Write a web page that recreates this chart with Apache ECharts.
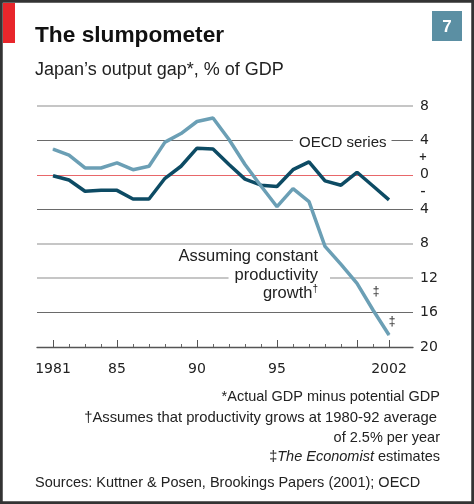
<!DOCTYPE html>
<html><head><meta charset="utf-8">
<script src="https://cdn.jsdelivr.net/npm/echarts@6/dist/echarts.min.js"></script>
<style>html,body{margin:0;padding:0;background:#fff}#c{width:474px;height:504px}</style>
</head><body><div id="c"></div>
<script>
// ---- data ----
const years = [1981,1982,1983,1984,1985,1986,1987,1988,1989,1990,1991,1992,1993,1994,1995,1996,1997,1998,1999,2000,2001,2002];
const oecdSeries = [-0.1,-0.6,-1.9,-1.8,-1.8,-2.8,-2.8,-0.4,1.0,3.1,3.0,1.2,-0.5,-1.2,-1.35,0.6,1.5,-0.7,-1.2,0.3,-1.3,-2.9];
const constProductivity = [3.0,2.3,0.8,0.8,1.4,0.6,1.0,3.8,4.8,6.2,6.6,4.1,1.2,-1.3,-3.7,-1.6,-3.1,-8.3,-10.4,-12.6,-15.7,-18.6];
const yTickValues = [-20,-16,-12,-8,-4,0,4,8];
const xLabelYears = [1981,1985,1990,1995,2002];
const xMajorTickYears = [1981,1985,1990,1995,2000,2002];
const estimateYears = [2001,2002];

// ---- styles ----
const NUM_FONT = 'DejaVu Sans';
const TXT_FONT = 'Liberation Sans';
const DARK_LINE = '#0d4b64';
const LIGHT_LINE = '#6b9fb5';
const lightGrid = new Set([-12,-8,8]);
const darkGrid = new Set([-16,-4,4]);
const lightColors = yTickValues.map(v => lightGrid.has(v) ? '#c6c6c6' : 'rgba(0,0,0,0)');
const darkColors = yTickValues.map(v => darkGrid.has(v) ? '#6a6a6a' : (v === 0 ? '#e8676a' : 'rgba(0,0,0,0)'));
const daggerOffsets = {2001: [3, -8], 2002: [3, -3]};

const chart = echarts.init(document.getElementById('c'), null, {renderer: 'canvas'});

const lightData = years.map((y, i) => {
  if (estimateYears.includes(y)) {
    return {value: [y, constProductivity[i]], label: {show: true, formatter: '‡', position: 'top', distance: 4, offset: daggerOffsets[y], color: '#222', fontSize: 12, fontFamily: TXT_FONT}};
  }
  return [y, constProductivity[i]];
});

const option = {
  animation: false,
  backgroundColor: '#fff',
  grid: {left: 37, right: 61, top: 106, bottom: 157, containLabel: false, outerBoundsMode: 'none'},
  xAxis: [
    {type: 'value', min: 1980, max: 2003.5, position: 'bottom',
     axisLine: {show: true, onZero: false, lineStyle: {color: '#555', width: 1.3}},
     axisTick: {show: true, inside: true, length: 3, customValues: years, lineStyle: {color: '#666', width: 1}},
     axisLabel: {show: false}, splitLine: {show: false}},
    {type: 'value', min: 1980, max: 2003.5, position: 'bottom',
     axisLine: {show: false, onZero: false},
     axisTick: {show: true, inside: true, length: 7, customValues: xMajorTickYears, lineStyle: {color: '#555', width: 1}},
     axisLabel: {show: true, customValues: xLabelYears, margin: 15, color: '#222', fontSize: 14, fontFamily: NUM_FONT,
       formatter: v => (v === 1981 || v === 2002) ? String(v) : String(v).slice(2)},
     splitLine: {show: false}}
  ],
  yAxis: [
    {type: 'value', min: -20, max: 8, interval: 4, position: 'right',
     axisLine: {show: false}, axisTick: {show: false},
     axisLabel: {show: true, margin: 7, color: '#222', fontSize: 14, fontFamily: NUM_FONT, formatter: v => String(Math.abs(v))},
     splitLine: {show: true, lineStyle: {color: lightColors, width: 2.2}}},
    {type: 'value', min: -20, max: 8, interval: 4, position: 'left',
     axisLine: {show: false}, axisTick: {show: false}, axisLabel: {show: false},
     splitLine: {show: true, lineStyle: {color: darkColors, width: 1.2}}}
  ],
  series: [
    {name: 'OECD series', type: 'line', xAxisIndex: 0, yAxisIndex: 0, symbol: 'none',
     data: years.map((y, i) => [y, oecdSeries[i]]),
     lineStyle: {color: DARK_LINE, width: 3.5}, z: 3},
    {name: 'Assuming constant productivity growth', type: 'line', xAxisIndex: 0, yAxisIndex: 0,
     symbol: 'circle', symbolSize: 1, showSymbol: true, itemStyle: {color: LIGHT_LINE},
     data: lightData,
     lineStyle: {color: LIGHT_LINE, width: 3.5}, z: 4}
  ],
  graphic: [
    {type: 'rect', z: 100, shape: {x: 1, y: 1, width: 472, height: 502}, style: {fill: 'none', stroke: '#333', lineWidth: 3.5}},
    {type: 'rect', z: 90, shape: {x: 3, y: 3, width: 12, height: 40}, style: {fill: '#e8262b'}},
    {type: 'rect', z: 90, shape: {x: 432, y: 11, width: 30, height: 30}, style: {fill: '#5b8fa3'}},
    {type: 'text', z: 91, x: 447, y: 27, style: {text: '7', fill: '#fff', font: 'bold 17px ' + TXT_FONT, textAlign: 'center', textVerticalAlign: 'middle'}},
    {type: 'text', z: 90, x: 35, y: 36, style: {text: 'The slumpometer', fill: '#111', font: 'bold 22.7px ' + TXT_FONT, textAlign: 'left', textVerticalAlign: 'middle'}},
    {type: 'text', z: 90, x: 35, y: 70, style: {text: 'Japan\u2019s output gap*, % of GDP', fill: '#222', font: '18px ' + TXT_FONT, textAlign: 'left', textVerticalAlign: 'middle'}},
    {type: 'text', z: 90, x: 293, y: 143, style: {text: 'OECD series', fill: '#222', font: '15px ' + TXT_FONT, textAlign: 'left', textVerticalAlign: 'middle', backgroundColor: '#fff', padding: [0, 5, 0, 6]}},
    {type: 'text', z: 90, x: 318, y: 256, style: {text: 'Assuming constant', fill: '#222', font: '16.5px ' + TXT_FONT, textAlign: 'right', textVerticalAlign: 'middle'}},
    {type: 'text', z: 90, x: 330, y: 275, style: {text: 'productivity', fill: '#222', font: '16.5px ' + TXT_FONT, textAlign: 'right', textVerticalAlign: 'middle', backgroundColor: '#fff', padding: [0, 12, 0, 6]}},
    {type: 'text', z: 90, x: 318, y: 293, style: {text: '{a|growth}{s|\u2020}', textAlign: 'right', textVerticalAlign: 'middle',
      rich: {a: {fill: '#222', fontSize: 16.5, fontFamily: TXT_FONT}, s: {fill: '#222', fontSize: 10, fontFamily: TXT_FONT, verticalAlign: 'top'}}}},
    {type: 'text', z: 90, x: 423, y: 157, style: {text: '+', fill: '#222', font: 'bold 10px ' + NUM_FONT, textAlign: 'center', textVerticalAlign: 'middle'}},
    {type: 'text', z: 90, x: 423, y: 192, style: {text: '\u2013', fill: '#222', font: 'bold 10px ' + NUM_FONT, textAlign: 'center', textVerticalAlign: 'middle'}},
    {type: 'text', z: 90, x: 440, y: 397, style: {text: '*Actual GDP minus potential GDP', fill: '#222', font: '14.5px ' + TXT_FONT, textAlign: 'right', textVerticalAlign: 'middle'}},
    {type: 'text', z: 90, x: 437, y: 418, style: {text: '\u2020Assumes that productivity grows at 1980-92 average', fill: '#222', font: '14.8px ' + TXT_FONT, textAlign: 'right', textVerticalAlign: 'middle'}},
    {type: 'text', z: 90, x: 440, y: 438, style: {text: 'of 2.5% per year', fill: '#222', font: '14.5px ' + TXT_FONT, textAlign: 'right', textVerticalAlign: 'middle'}},
    {type: 'text', z: 90, x: 440, y: 457, style: {text: '{d|\u2021}{i|The Economist}{n| estimates}', textAlign: 'right', textVerticalAlign: 'middle',
      rich: {d: {fill: '#222', fontSize: 14.5, fontFamily: TXT_FONT}, i: {fill: '#222', fontSize: 14.5, fontFamily: TXT_FONT, fontStyle: 'italic'}, n: {fill: '#222', fontSize: 14.5, fontFamily: TXT_FONT}}}},
    {type: 'text', z: 90, x: 35, y: 483, style: {text: 'Sources: Kuttner & Posen, Brookings Papers (2001); OECD', fill: '#222', font: '14.5px ' + TXT_FONT, textAlign: 'left', textVerticalAlign: 'middle'}}
  ]
};
chart.setOption(option);
</script>
</body></html>
